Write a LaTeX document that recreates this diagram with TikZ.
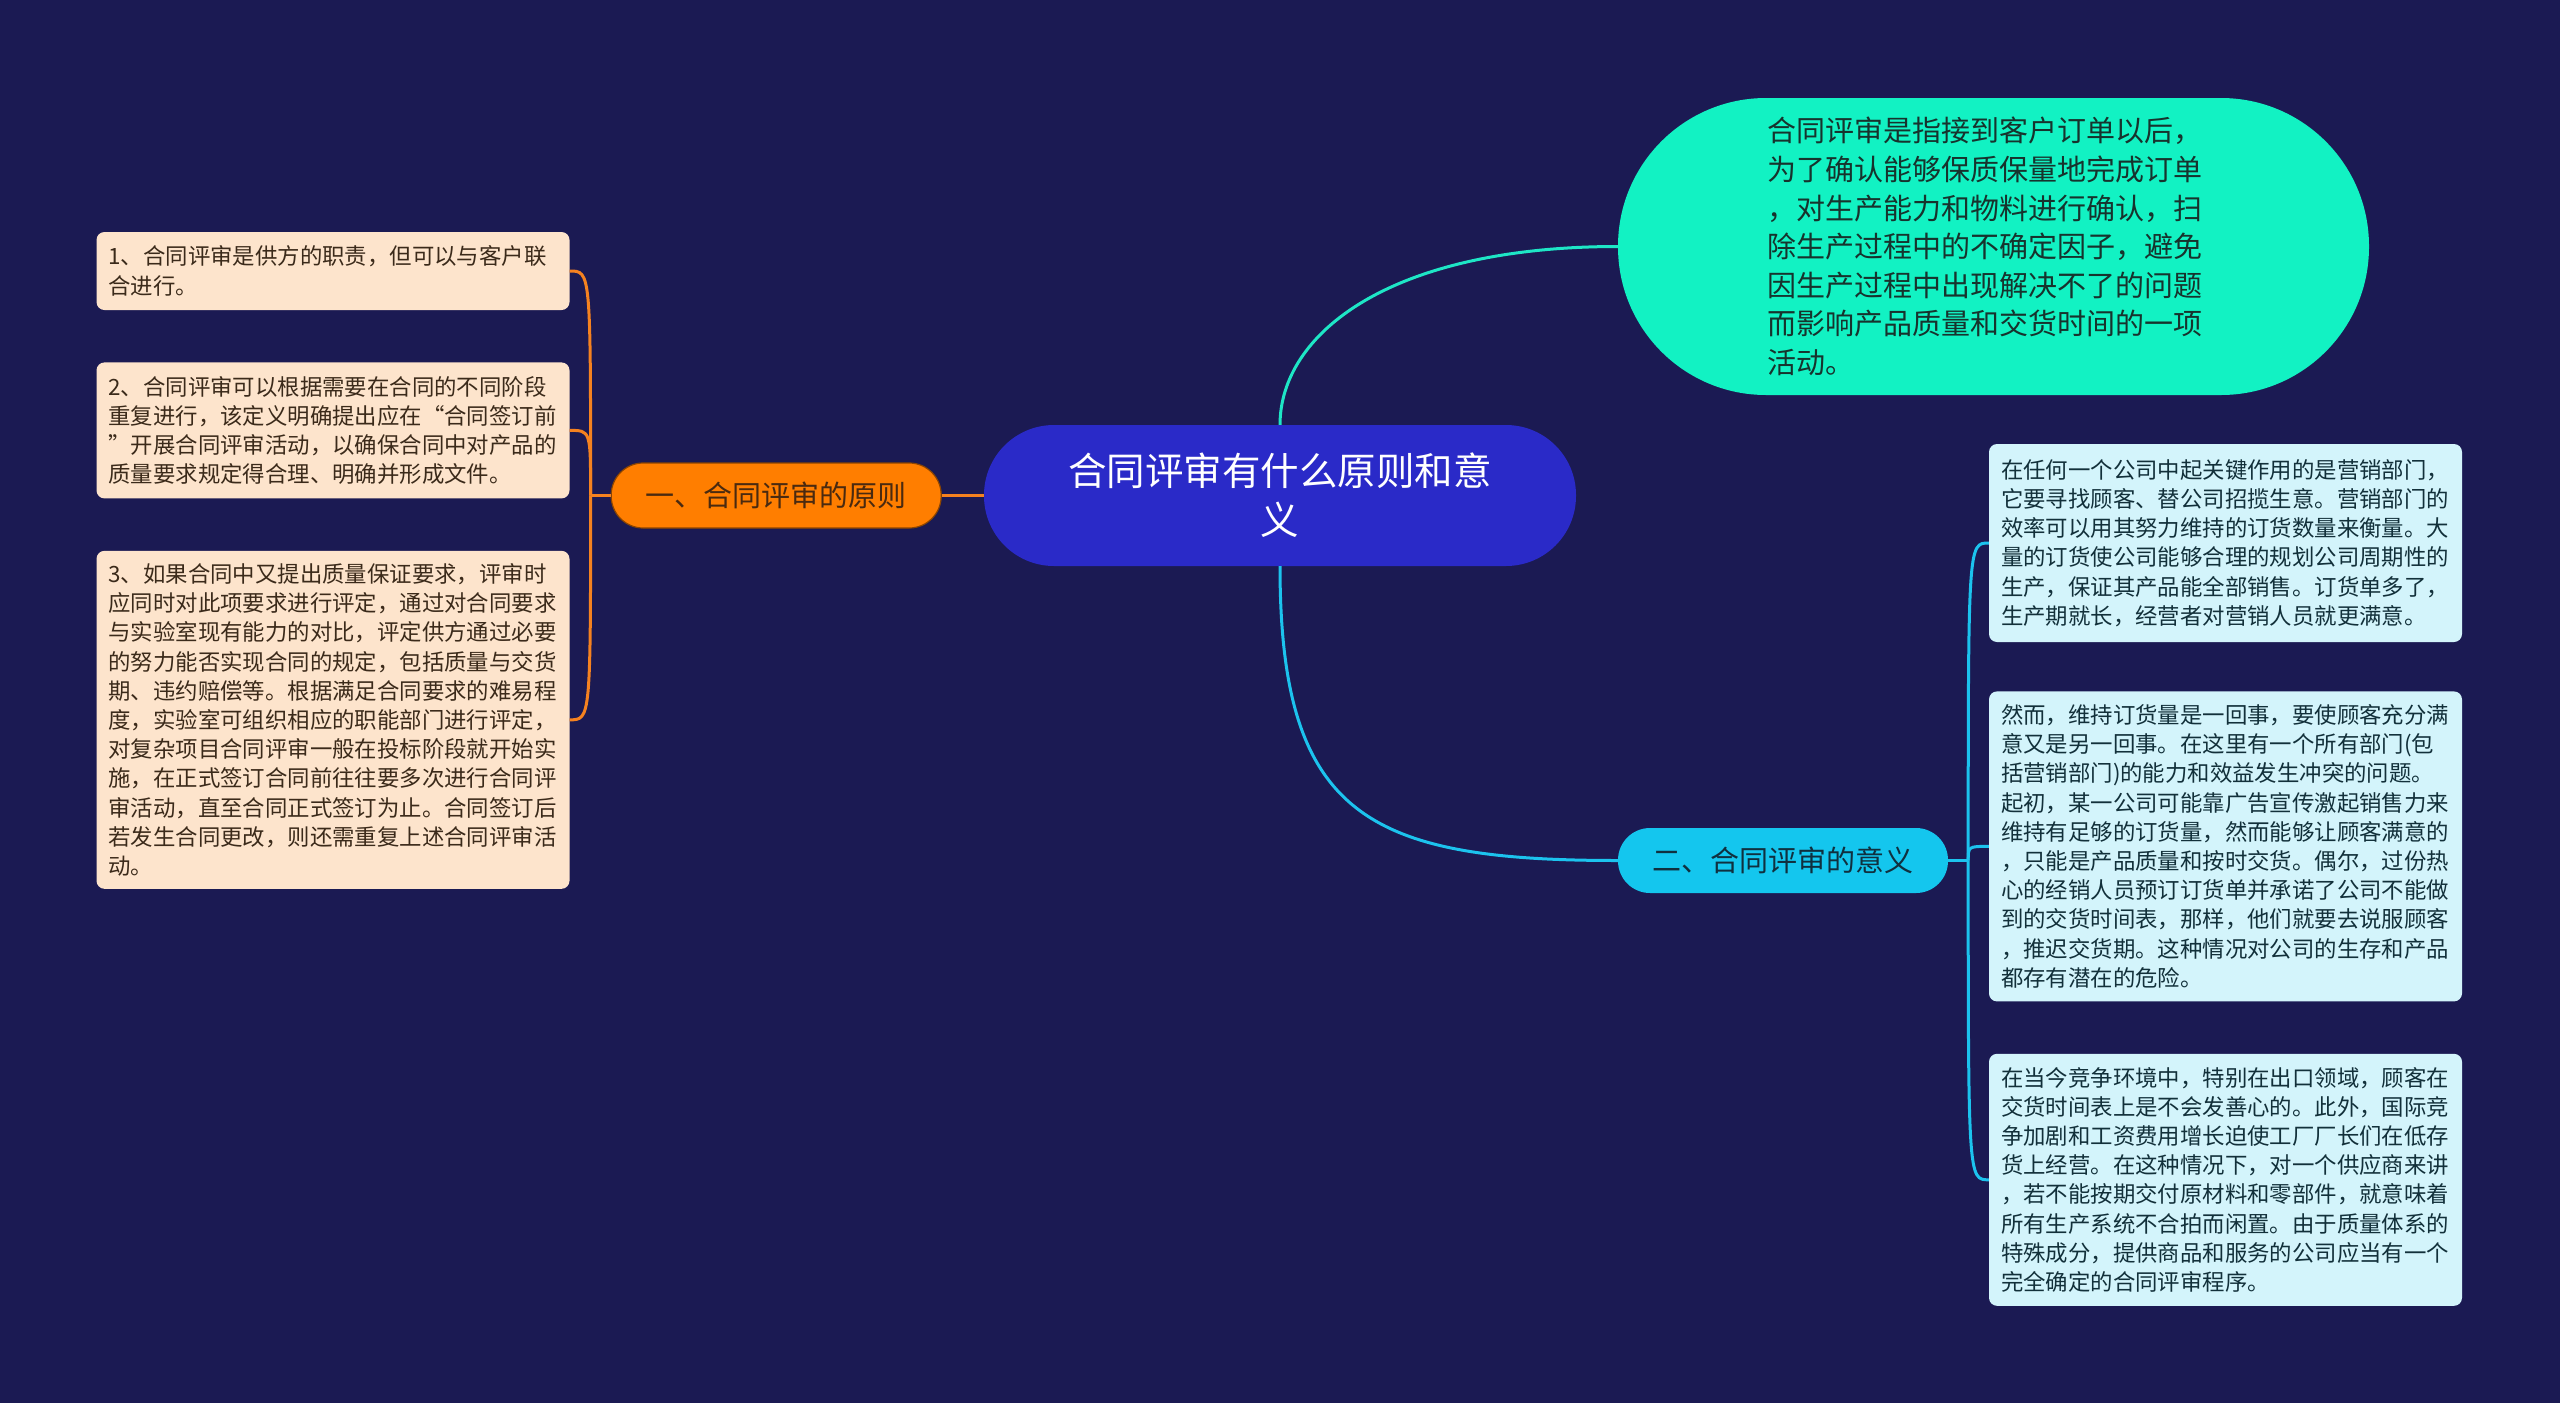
\documentclass[tikz,border=0pt]{standalone}
\usepackage{fontspec}
\setmainfont{Noto Sans CJK SC}
\usepackage{xcolor}
\usetikzlibrary{positioning}

\definecolor{bgnavy}{HTML}{1B1A53}
\definecolor{rootblue}{HTML}{2A2AC8}
\definecolor{mint}{HTML}{12F2C3}
\definecolor{minttext}{HTML}{17332D}
\definecolor{sky}{HTML}{14C6EE}
\definecolor{skytext}{HTML}{10303F}
\definecolor{amber}{HTML}{FF7E00}
\definecolor{ambertext}{HTML}{4A2A10}
\definecolor{peach}{HTML}{FDE4CC}
\definecolor{peachtext}{HTML}{3B2A1A}
\definecolor{ice}{HTML}{D3F4FB}
\definecolor{icetext}{HTML}{12303A}
\definecolor{amberline}{HTML}{F58220}
\definecolor{mintline}{HTML}{1EE6C6}
\definecolor{skyline}{HTML}{1CC3EE}

\begin{document}
\begin{tikzpicture}[
  x=1pt, y=1pt,
  node distance=52pt and 42pt,
  root/.style={fill=rootblue, text=white, rounded corners=70pt, minimum width=592pt, minimum height=141pt, text width=440pt, align=center, font=\fontsize{38.5pt}{49pt}\selectfont},
  define/.style={fill=mint, text=minttext, rounded corners=148pt, minimum width=751pt, minimum height=297pt, text width=452pt, align=left, font=\fontsize{29pt}{38.6pt}\selectfont},
  branch/.style={rounded corners=32pt, minimum width=330pt, minimum height=65pt, align=center, font=\fontsize{29pt}{34pt}\selectfont},
  rulebranch/.style={branch, fill=amber, draw=amber!55!black, line width=1.2pt, text=ambertext},
  meanbranch/.style={branch, fill=sky, text=skytext},
  note/.style={rounded corners=8pt, text width=449pt, align=left, inner xsep=12pt, inner ysep=8pt, font=\fontsize{22.4pt}{29.2pt}\selectfont},
  rulenote/.style={note, fill=peach, text=peachtext},
  meannote/.style={note, fill=ice, text=icetext},
  link/.style={line width=3pt}
]
\fill[bgnavy] (0,0) rectangle (2560,-1403);

\node[root] (root) at (1280,-495.5) {合同评审有什么原则和意\\义};
\node[rulebranch, left=42pt of root] (rule) {一、合同评审的原则};
\node[define] (define) at (1993.5,-246.5) {合同评审是指接到客户订单以后，\\为了确认能够保质保量地完成订单\\，对生产能力和物料进行确认，扫\\除生产过程中的不确定因子，避免\\因生产过程中出现解决不了的问题\\而影响产品质量和交货时间的一项\\活动。};
\node[meanbranch] (mean) at (1783,-860.5) {二、合同评审的意义};

\node[rulenote, minimum height=78pt] (p1) at (333,-271) {1、合同评审是供方的职责，但可以与客户联\\合进行。};
\node[rulenote, minimum height=136pt, below=of p1] (p2) {2、合同评审可以根据需要在合同的不同阶段\\重复进行，该定义明确提出应在“合同签订前\\”开展合同评审活动，以确保合同中对产品的\\质量要求规定得合理、明确并形成文件。};
\node[rulenote, minimum height=338pt, below=of p2] (p3) {3、如果合同中又提出质量保证要求，评审时\\应同时对此项要求进行评定，通过对合同要求\\与实验室现有能力的对比，评定供方通过必要\\的努力能否实现合同的规定，包括质量与交货\\期、违约赔偿等。根据满足合同要求的难易程\\度，实验室可组织相应的职能部门进行评定，\\对复杂项目合同评审一般在投标阶段就开始实\\施，在正式签订合同前往往要多次进行合同评\\审活动，直至合同正式签订为止。合同签订后\\若发生合同更改，则还需重复上述合同评审活\\动。};

\node[meannote, minimum height=198pt] (s1) at (2225.5,-543) {在任何一个公司中起关键作用的是营销部门，\\它要寻找顾客、替公司招揽生意。营销部门的\\效率可以用其努力维持的订货数量来衡量。大\\量的订货使公司能够合理的规划公司周期性的\\生产，保证其产品能全部销售。订货单多了，\\生产期就长，经营者对营销人员就更满意。};
\node[meannote, minimum height=310pt, below=49pt of s1] (s2) {然而，维持订货量是一回事，要使顾客充分满\\意又是另一回事。在这里有一个所有部门(包\\括营销部门)的能力和效益发生冲突的问题。\\起初，某一公司可能靠广告宣传激起销售力来\\维持有足够的订货量，然而能够让顾客满意的\\，只能是产品质量和按时交货。偶尔，过份热\\心的经销人员预订订货单并承诺了公司不能做\\到的交货时间表，那样，他们就要去说服顾客\\，推迟交货期。这种情况对公司的生存和产品\\都存有潜在的危险。};
\node[meannote, minimum height=252pt, below=of s2] (s3) {在当今竞争环境中，特别在出口领域，顾客在\\交货时间表上是不会发善心的。此外，国际竞\\争加剧和工资费用增长迫使工厂厂长们在低存\\货上经营。在这种情况下，对一个供应商来讲\\，若不能按期交付原材料和零部件，就意味着\\所有生产系统不合拍而闲置。由于质量体系的\\特殊成分，提供商品和服务的公司应当有一个\\完全确定的合同评审程序。};

\coordinate (rulefork) at ([xshift=-20pt]rule.west);
\coordinate (meanfork) at ([xshift=20pt]mean.east);

\draw[link, amberline] (root) -- (rule);
\draw[link, amberline] (rule.west) -- (rulefork);
\foreach \n in {p1,p2,p3}
  \draw[link, amberline] (rulefork) .. controls (rulefork |- \n.east) .. (\n.east);

\draw[link, mintline] (root.north) .. controls +(0,90) and +(-230,0) .. (define.west);
\draw[link, skyline] (root.south) .. controls +(0,-250) and +(-250,0) .. (mean.west);
\draw[link, skyline] (mean.east) -- (meanfork);
\foreach \n in {s1,s2,s3}
  \draw[link, skyline] (meanfork) .. controls (meanfork |- \n.west) .. (\n.west);
\end{tikzpicture}
\end{document}
